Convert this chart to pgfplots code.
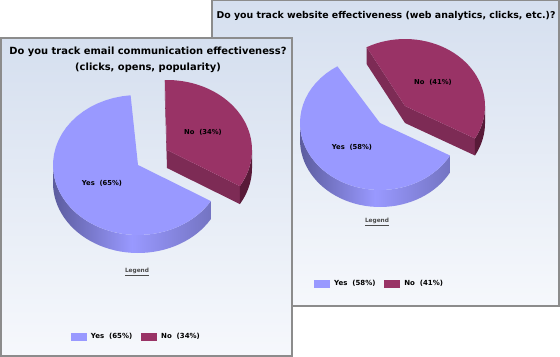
\documentclass[border=0pt]{standalone}
\usepackage{fontspec}
\setmainfont{DejaVu Sans}
\usepackage{pgfplots}
\usepackage{pgfplotstable}
\pgfplotsset{compat=1.18}

\definecolor{yesc}{HTML}{9999FF}
\definecolor{yesdarkL}{HTML}{5C5C9E}
\definecolor{yesdarkR}{HTML}{7474C2}
\definecolor{noc}{HTML}{993366}
\definecolor{nocut}{HTML}{7D2B55}
\definecolor{noside}{HTML}{581A38}
\definecolor{bgtop}{RGB}{213,223,239}
\definecolor{bgbot}{RGB}{246,248,252}
\definecolor{bord}{RGB}{140,140,140}

\newcommand\tfont{\fontsize{9.9bp}{16bp}\selectfont\bfseries}
\newcommand\tfontb{\fontsize{9.4bp}{16bp}\selectfont\bfseries}
\newcommand\lfont{\fontsize{6.8bp}{8bp}\selectfont\bfseries}
\newcommand\legfont{\fontsize{7bp}{8bp}\selectfont\bfseries}
\newcommand\gfont{\fontsize{5.8bp}{7bp}\selectfont\bfseries}

% top face of a wedge: cx, cy, rx, ry, start angle, end angle, colour
\newcommand\pietop[7]{%
  \addplot[forget plot, fill=#7, draw=none, samples at={0,1,...,40,80}]
  ({#1+(x<60)*(#3)*cos((#5)+((#6)-(#5))*min(x,40)/40)},
   {#2-(x<60)*(#4)*sin((#5)+((#6)-(#5))*min(x,40)/40)});
}
% outer side of a wedge: cx, cy, rx, ry, start, end, depth, style
\newcommand\pieside[8]{%
  \addplot[forget plot, #8, draw=none, samples at={0,1,...,120}]
  ({#1+(#3)*cos((#5)+((#6)-(#5))*(min(x,40)-max(x-80,0))/40)},
   {#2-(#4)*sin((#5)+((#6)-(#5))*(min(x,40)-max(x-80,0))/40)+(#7)*min(max(x-40,0),40)/40});
}
% cut face: cx, cy, rx, ry, angle, depth, colour
\newcommand\piecut[7]{%
  \addplot[forget plot, fill=#7, draw=none, samples at={0,1,2,3}]
  ({#1+(x>0.5)*(x<2.5)*(#3)*cos(#5)},
   {#2-(x>0.5)*(x<2.5)*(#4)*sin(#5)+(x>1.5)*(#6)});
}

\pgfplotsset{
  panel/.style={scale only axis, anchor=north west, y dir=reverse,
    enlargelimits=false, ticks=none,
    axis line style={draw=bord, line width=1.3bp},
    axis background/.style={top color=bgtop, bottom color=bgbot},
    legend columns=2,
    legend style={draw=none, fill=none, font=\legfont, inner sep=0pt,
      /tikz/every odd column/.append style={column sep=2.5bp},
      /tikz/every even column/.append style={column sep=7bp}}},
}

\pgfplotstableread{
label pct
Yes 65
No 34
}\emailtab
\pgfplotstableread{
label pct
Yes 58
No 41
}\webtab

\begin{document}
\begin{tikzpicture}
\path[use as bounding box, fill=white] (0bp,0bp) rectangle (560bp,-357bp);

% ---- angles from the data ----
\pgfplotstablegetelem{0}{pct}\of\emailtab \let\eYes\pgfplotsretval
\pgfplotstablegetelem{1}{pct}\of\emailtab \let\eNo\pgfplotsretval
\pgfmathsetmacro\eNoA{-31}
\pgfmathsetmacro\eNoB{\eNoA+3.6*\eNo}
\pgfmathsetmacro\eYesA{\eNoB+3.6*(100-\eYes-\eNo)}
\pgfmathsetmacro\eYesB{\eYesA+3.6*\eYes}
\pgfmathsetmacro\eYesS{max(\eYesA,180)}
\pgfmathsetmacro\eYesE{min(\eYesB,360)}
\pgfmathsetmacro\eNoE{min(\eNoB,0)}

\pgfplotstablegetelem{0}{pct}\of\webtab \let\wYes\pgfplotsretval
\pgfplotstablegetelem{1}{pct}\of\webtab \let\wNo\pgfplotsretval
\pgfmathsetmacro\wNoA{-29}
\pgfmathsetmacro\wNoB{\wNoA+3.6*\wNo}
\pgfmathsetmacro\wYesA{\wNoB+3.6*(100-\wYes-\wNo)}
\pgfmathsetmacro\wYesB{\wYesA+3.6*\wYes}
\pgfmathsetmacro\wYesS{max(\wYesA,180)}
\pgfmathsetmacro\wYesE{min(\wYesB,360)}
\pgfmathsetmacro\wNoE{min(\wNoB,0)}

% ---- back panel: website effectiveness ----
\begin{axis}[panel, at={(212bp,0bp)}, width=347bp, height=306bp,
  xmin=212, xmax=559, ymin=0, ymax=306,
  legend style={at={(0.294,0.072)}, anchor=west}]
\piecut{405}{106}{80}{67}{\wNoB}{17}{nocut}
\piecut{405}{106}{80}{67}{\wNoA}{17}{nocut}
\pieside{405}{106}{80}{67}{\wNoA}{\wNoE}{17}{fill=noside}
\pietop{405}{106}{80}{67}{\wNoA}{\wNoB}{noc}
\pieside{380}{123}{80}{67}{\wYesS}{\wYesE}{17}{left color=yesdarkL, right color=yesdarkR, middle color=yesc}
\pietop{380}{123}{80}{67}{\wYesA}{\wYesB}{yesc}
\node[font=\tfontb] at (axis cs:386,16) {Do you track website effectiveness (web analytics, clicks, etc.)?};
\node[font=\lfont] at (axis cs:352,147) {Yes\ \ (58\%)};
\node[font=\lfont] at (axis cs:433,82) {No\ \ (41\%)};
\node[font=\gfont, text=black!70] at (axis cs:377,222) {\underline{Legend}};
\addlegendimage{legend image code/.code={\fill[yesc] (0bp,-3.5bp) rectangle (15bp,3.5bp);}}
\addlegendentry{Yes\ \ (58\%)}
\addlegendimage{legend image code/.code={\fill[noc] (0bp,-3.5bp) rectangle (15bp,3.5bp);}}
\addlegendentry{No\ \ (41\%)}
\end{axis}

% ---- front panel: email effectiveness ----
\begin{axis}[panel, at={(1bp,-38bp)}, width=291bp, height=318bp,
  xmin=1, xmax=292, ymin=38, ymax=356,
  legend style={at={(0.240,0.060)}, anchor=west}]
\piecut{167}{150}{85}{70}{\eNoB}{18}{nocut}
\piecut{167}{150}{85}{70}{\eNoA}{18}{nocut}
\pieside{167}{150}{85}{70}{\eNoA}{\eNoE}{18}{fill=noside}
\pietop{167}{150}{85}{70}{\eNoA}{\eNoB}{noc}
\pieside{138}{165}{85}{70}{\eYesS}{\eYesE}{18}{left color=yesdarkL, right color=yesdarkR, middle color=yesc}
\pietop{138}{165}{85}{70}{\eYesA}{\eYesB}{yesc}
\node[font=\tfont, align=center] at (axis cs:148,60) {Do you track email communication effectiveness?\\(clicks, opens, popularity)};
\node[font=\lfont] at (axis cs:102,183) {Yes\ \ (65\%)};
\node[font=\lfont] at (axis cs:203,132) {No\ \ (34\%)};
\node[font=\gfont, text=black!70] at (axis cs:137,272) {\underline{Legend}};
\addlegendimage{legend image code/.code={\fill[yesc] (0bp,-3.5bp) rectangle (15bp,3.5bp);}}
\addlegendentry{Yes\ \ (65\%)}
\addlegendimage{legend image code/.code={\fill[noc] (0bp,-3.5bp) rectangle (15bp,3.5bp);}}
\addlegendentry{No\ \ (34\%)}
\end{axis}
\end{tikzpicture}
\end{document}
